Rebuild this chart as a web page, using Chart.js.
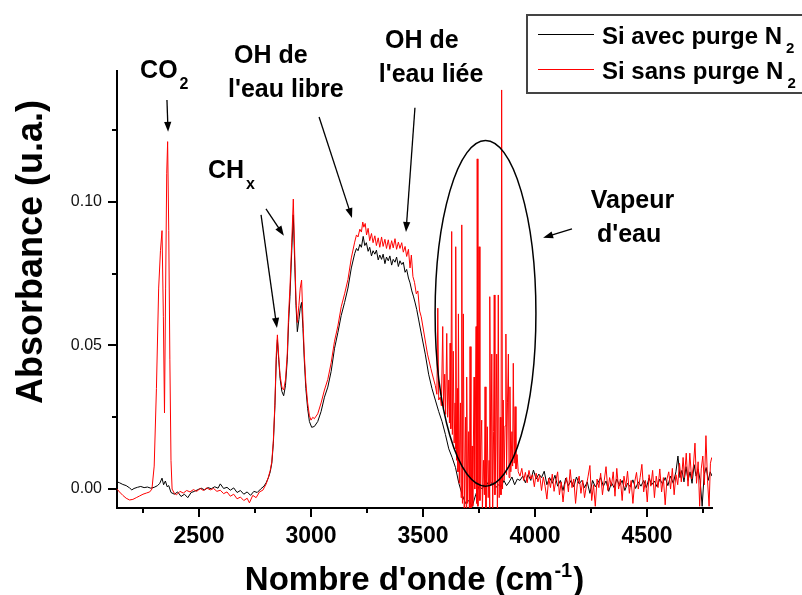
<!DOCTYPE html>
<html><head><meta charset="utf-8">
<script src="https://cdn.jsdelivr.net/npm/chart.js@4.4.1/dist/chart.umd.min.js"></script>
<style>html,body{margin:0;padding:0;background:#fff;}canvas{display:block;}</style>
</head><body>
<canvas id="c" width="802" height="595"></canvas>
<script>
// ---- data (wavenumber in cm-1, absorbance in u.a.) ----
const wnAvec = [
2134,2145,2160,2175,2190,2200,2210,2225,2240,2255,
2270,2285,2300,2315,2325,2335,2342,2350,2358,2365,
2375,2390,2405,2420,2435,2450,2465,2480,2495,2510,
2525,2540,2555,2570,2585,2595,2610,2625,2640,2655,
2670,2685,2700,2715,2730,2745,2760,2775,2790,2800,
2810,2818,2825,2832,2839,2845,2850,2856,2862,2870,
2878,2886,2894,2900,2906,2914,2921,2928,2933,2939,
2946,2952,2958,2964,2970,2977,2985,2993,3003,3015,
3030,3045,3060,3075,3090,3105,3120,3135,3150,3165,
3180,3195,3203,3210,3218,3225,3233,3240,3247,3255,
3262,3270,3277,3285,3292,3300,3307,3315,3322,3330,
3337,3345,3352,3360,3367,3375,3382,3390,3397,3405,
3412,3420,3427,3435,3442,3450,3457,3465,3472,3480,
3495,3510,3525,3540,3555,3570,3585,3600,3615,3630,
3645,3660,3675,3690,3705,3720,3735,3750,3765,3780,
3795,3810,
3825,3837,3849,3861,3873,3885,3897,3909,3921,3933,
3945,3957,3969,3981,3993,4005,4017,4029,4041,4053,
4065,4077,4089,4101,4113,4125,4137,4149,4161,4173,
4185,4197,4209,4221,4233,4245,4257,4269,4281,4293,
4305,4317,4329,4341,4353,4365,4377,4389,4401,4413,
4425,4437,4449,4461,4473,4485,4497,4509,4521,4533,
4545,4557,4569,4581,4593,4605,4617,4629,4638,4647,
4656,4665,4674,4683,4692,4701,4710,4719,4728,4737,
4746,4755,4764,4773,4782,4790];
const absAvec = [
0.0025,0.0022,0.0016,0.0012,0.0004,-0.0003,0.0002,0.0006,0.0009,0.0005,
0.0007,0.0003,0.0006,0.0012,0.0020,0.0038,0.0015,0.0028,0.0008,0.0012,
-0.0012,-0.0018,-0.0010,-0.0026,-0.0018,-0.0030,-0.0012,-0.0008,-0.0002,0.0003,
-0.0003,0.0005,0.0001,0.0008,0.0003,0.0018,0.0002,0.0006,-0.0004,0.0004,
-0.0012,-0.0005,-0.0018,-0.0010,-0.0022,-0.0008,-0.0012,0.0000,0.0010,0.0022,
0.0040,0.0060,0.0090,0.0160,0.0290,0.0450,0.0520,0.0450,0.0385,0.0340,
0.0325,0.0360,0.0450,0.0580,0.0670,0.0830,0.0955,0.0770,0.0640,0.0548,
0.0590,0.0630,0.0650,0.0560,0.0450,0.0350,0.0280,0.0235,0.0215,0.0218,
0.0235,0.0270,0.0320,0.0355,0.0410,0.0490,0.0545,0.0605,0.0650,0.0700,
0.0770,0.0820,0.0838,0.0830,0.0852,0.0842,0.0880,0.0848,0.0858,0.0828,
0.0842,0.0812,0.0830,0.0818,0.0832,0.0798,0.0815,0.0800,0.0818,0.0785,
0.0808,0.0795,0.0812,0.0780,0.0800,0.0790,0.0808,0.0775,0.0795,0.0782,
0.0790,0.0755,0.0765,0.0735,0.0718,0.0690,0.0672,0.0648,0.0625,0.0592,
0.0530,0.0470,0.0400,0.0350,0.0310,0.0270,0.0235,0.0190,0.0140,0.0110,
0.0075,0.0020,-0.0020,-0.0050,-0.0040,-0.0060,-0.0020,0.0010,0.0000,0.0030,
0.0010,0.0025,
0.0005,0.0015,0.0008,0.0030,0.0012,0.0025,0.0042,0.0015,0.0035,0.0030,
0.0045,0.0022,0.0050,0.0030,0.0066,0.0035,0.0052,0.0040,0.0062,0.0015,
0.0040,0.0020,0.0048,0.0010,0.0030,-0.0005,0.0038,0.0012,0.0030,0.0008,
0.0042,0.0018,0.0030,0.0005,0.0025,-0.0015,0.0030,0.0008,0.0022,0.0040,
0.0010,0.0028,-0.0008,0.0022,0.0005,0.0035,0.0012,0.0030,-0.0005,0.0020,
0.0008,0.0032,0.0002,0.0025,0.0010,0.0030,0.0005,0.0038,0.0015,0.0028,
0.0008,0.0035,0.0018,0.0040,0.0012,0.0045,0.0020,0.0060,0.0115,0.0040,
0.0065,0.0025,0.0078,0.0030,0.0060,0.0020,0.0085,0.0045,0.0070,0.0030,
-0.0060,0.0050,0.0075,0.0030,0.0060,0.0045];

const wnSans = [
2134,2145,2160,2175,2190,2205,2220,2235,2250,2265,
2280,2290,2300,2310,2320,2328,2335,2341,2346,2351,
2356,2360,2365,2370,2375,2380,2390,2400,2415,2430,
2445,2460,2475,2490,2505,2520,2535,2550,2565,2580,
2595,2610,2625,2640,2655,2670,2685,2700,2715,2725,
2740,2755,2770,2785,2800,2810,2818,2825,2832,2839,
2845,2850,2856,2862,2870,2878,2886,2894,2900,2906,
2914,2921,2928,2933,2939,2946,2952,2958,2964,2970,
2977,2985,2993,3000,3008,3015,3030,3045,3060,3075,
3090,3105,3120,3135,3150,3165,3180,3195,3203,3210,
3218,3225,3231,3236,3242,3248,3255,3262,3270,3277,
3285,3292,3300,3307,3315,3322,3330,3337,3345,3352,
3360,3367,3375,3382,3390,3397,3405,3412,3420,3427,
3435,3442,3448,3455,3462,3470,3477,3485,3492,3505,
3520,3535,3548,3555,3562,3566,3570,3577,3582,3588,
3592,3597,3601,3606,3610,3615,3618,3621,3624,3628,
3631,3635,3639,3643,3645,3647,3650,3654,3656,3658,
3662,3667,3670,3673,3676,3680,3684,3690,3693,3695,
3699,3704,3707,3710,3714,3719,3722,3728,3731,3737,
3740,3742,3745,3750,3754,3758,3762,3765,3770,3774,
3777,3781,3787,3791,3795,3797,3799,3803,3807,3811,
3815,3818,3821,3825,3829,3832,3836,3840,3845,3848,
3851,3855,3858,3862,3866,3870,3873,3877,3881,3884,
3888,3892,3897,3900,3903,3907,3911,3915,3920,
3925,3933,3941,3949,3957,3965,3973,3981,3989,3997,
4005,4013,4021,4029,4037,4045,4053,4061,4069,4077,
4085,4093,4101,4109,4117,4125,4133,4141,4149,4157,
4165,4173,4181,4189,4197,4205,4213,4221,4229,4237,
4245,4253,4261,4269,4277,4285,4293,4301,4309,4317,
4325,4333,4341,4349,4357,4365,4373,4381,4389,4397,
4405,4413,4421,4429,4437,4445,4453,4461,4469,4477,
4485,4493,4501,4509,4517,4525,4533,4541,4549,4557,
4565,4573,4581,4589,4597,4605,4613,4621,4629,4637,
4645,4653,4661,4667,4675,4683,4691,4699,4707,4714,
4721,4728,4735,4742,4749,4756,4763,4770,4777,4783,
4789];
const absSans = [
0.0000,-0.0010,-0.0022,-0.0032,-0.0038,-0.0036,-0.0030,-0.0024,-0.0018,-0.0014,
-0.0010,0.0000,0.0080,0.0350,0.0700,0.0830,0.0900,0.0600,0.0265,0.0700,
0.1100,0.1210,0.0900,0.0450,0.0100,0.0000,-0.0015,-0.0020,-0.0008,-0.0014,
-0.0005,-0.0010,-0.0002,-0.0008,0.0002,-0.0005,0.0004,-0.0003,0.0002,-0.0008,
-0.0004,-0.0016,-0.0010,-0.0025,-0.0018,-0.0034,-0.0028,-0.0040,-0.0032,-0.0048,
-0.0022,-0.0030,-0.0010,-0.0004,0.0018,0.0042,0.0065,0.0095,0.0170,0.0300,
0.0470,0.0537,0.0460,0.0395,0.0355,0.0345,0.0380,0.0470,0.0610,0.0700,
0.0860,0.1010,0.0800,0.0660,0.0580,0.0640,0.0700,0.0728,0.0590,0.0470,
0.0370,0.0300,0.0255,0.0240,0.0250,0.0245,0.0262,0.0300,0.0345,0.0382,
0.0440,0.0515,0.0568,0.0635,0.0680,0.0730,0.0805,0.0860,0.0885,0.0878,
0.0905,0.0895,0.0930,0.0912,0.0925,0.0885,0.0908,0.0865,0.0890,0.0858,
0.0882,0.0848,0.0875,0.0842,0.0878,0.0845,0.0870,0.0838,0.0868,0.0835,
0.0865,0.0840,0.0872,0.0835,0.0860,0.0838,0.0858,0.0825,0.0845,0.0810,
0.0835,0.0770,0.0815,0.0740,0.0720,0.0680,0.0690,0.0620,0.0600,0.0540,
0.0470,0.0420,0.0380,0.0360,0.0330,0.0630,0.0310,0.0320,0.0290,0.0566,
0.0280,0.0400,0.0260,0.0542,0.0250,0.0380,0.0230,0.0508,0.0210,0.0897,
0.0190,0.0480,0.0160,0.0300,0.0140,0.0844,0.0100,0.0350,0.0060,0.0610,
0.0020,0.0300,-0.0030,0.0920,-0.0050,0.0610,-0.0080,0.0250,-0.0080,0.0390,
-0.0050,0.0200,-0.0080,0.0496,-0.0070,0.0150,-0.0060,0.0390,0.0000,0.0566,
-0.0050,0.1150,-0.0060,0.0844,-0.0040,0.0150,0.0240,-0.0080,0.0100,-0.0020,
0.0356,-0.0080,0.0217,-0.0030,0.0100,-0.0080,0.0670,0.0020,0.0470,-0.0080,
0.0200,0.0676,-0.0020,0.0150,0.0470,-0.0070,0.0676,-0.0030,0.0250,-0.0020,
0.1390,0.0000,0.0310,0.0030,0.0220,0.0540,0.0050,0.0300,0.0470,0.0040,
0.0356,0.0060,0.0200,0.0080,0.0438,0.0090,0.0287,0.0070,0.0120,
0.0060,0.0045,0.0072,0.0030,0.0058,0.0022,0.0065,0.0035,0.0050,0.0008,
0.0055,0.0025,0.0048,-0.0005,0.0042,0.0010,-0.0035,0.0038,0.0005,0.0052,
-0.0008,0.0030,0.0060,-0.0020,0.0025,-0.0045,0.0015,0.0040,-0.0010,0.0068,
0.0005,0.0035,-0.0050,0.0020,0.0045,-0.0015,0.0030,-0.0030,0.0010,0.0045,
0.0082,-0.0040,0.0015,-0.0060,0.0035,0.0005,0.0055,-0.0020,0.0030,0.0078,
-0.0005,0.0040,0.0010,0.0060,-0.0025,0.0072,0.0000,0.0035,-0.0040,0.0045,
0.0008,0.0062,-0.0015,0.0030,-0.0050,0.0025,0.0058,0.0000,0.0040,0.0086,
-0.0010,0.0030,-0.0045,0.0050,0.0010,0.0065,-0.0030,0.0045,0.0005,0.0070,
-0.0010,0.0040,-0.0055,0.0035,0.0060,0.0000,0.0072,-0.0020,0.0050,0.0015,
0.0090,0.0025,0.0110,0.0040,0.0125,0.0010,0.0125,0.0035,0.0080,0.0160,
0.0020,0.0095,-0.0060,0.0070,0.0115,0.0015,0.0186,0.0030,-0.0060,0.0090,
0.0110];

const seriesNames = ['Si avec purge N', 'Si sans purge N'];
const seriesSub = '2';
const xTicks = [2500, 3000, 3500, 4000, 4500];
const xMinorTicks = [2250, 2750, 3250, 3750, 4250, 4750];
const yTicks = [0.00, 0.05, 0.10];
const yMinorTicks = [0.025, 0.075, 0.125];
const xRange = [2134, 4790];
const yRange = [-0.0066, 0.1456];
const yTitle = 'Absorbance (u.a.)';
const xTitle = ["Nombre d'onde (cm", '-1', ')'];

// annotation anchors in data units
const labels = [
  {t:'CO', sub:'2', x:2237, y:0.1432, align:'left'},
  {t:'CH', sub:'x', x:2540, y:0.1084, align:'left'},
  {t:'OH de', x:2821, y:0.1484, align:'center'},
  {t:"l'eau libre", x:2888, y:0.1367, align:'center'},
  {t:'OH de', x:3495, y:0.1537, align:'center'},
  {t:"l'eau liée", x:3536, y:0.1419, align:'center'},
  {t:'Vapeur', x:4435, y:0.0978, align:'center'},
  {t:"d'eau", x:4420, y:0.0862, align:'center'}
];
const arrows = [
  [2357, 0.1355, 2362, 0.1244],
  [3036, 0.1296, 3183, 0.0944],
  [2777, 0.0955, 2848, 0.0561],
  [2799, 0.0976, 2879, 0.0882],
  [3464, 0.1328, 3424, 0.0895],
  [4165, 0.0906, 4036, 0.0875]
];
const ellipse = {x:3779, y:0.0612, rx:225, ry:0.0602};

const FONT = '"Liberation Sans", Arial, Helvetica, sans-serif';

function drawArrow(ctx, x1, y1, x2, y2) {
  const a = Math.atan2(y2 - y1, x2 - x1), L = 10, W = 3.6;
  ctx.beginPath();
  ctx.moveTo(x1, y1);
  ctx.lineTo(x2 - (L - 2) * Math.cos(a), y2 - (L - 2) * Math.sin(a));
  ctx.stroke();
  ctx.beginPath();
  ctx.moveTo(x2, y2);
  ctx.lineTo(x2 - L * Math.cos(a) + W * Math.sin(a), y2 - L * Math.sin(a) - W * Math.cos(a));
  ctx.lineTo(x2 - L * Math.cos(a) - W * Math.sin(a), y2 - L * Math.sin(a) + W * Math.cos(a));
  ctx.closePath();
  ctx.fill();
}

const overlay = {
  id: 'overlay',
  afterDraw(chart) {
    const ctx = chart.ctx, xs = chart.scales.x, ys = chart.scales.y, ca = chart.chartArea;
    const X = v => xs.getPixelForValue(v), Y = v => ys.getPixelForValue(v);
    ctx.save();
    ctx.strokeStyle = '#000'; ctx.fillStyle = '#000';
    ctx.lineWidth = 2;
    const seg = (a, b, c, d) => { ctx.beginPath(); ctx.moveTo(a, b); ctx.lineTo(c, d); ctx.stroke(); };
    xTicks.forEach(v => { const p = Math.round(X(v)); seg(p, ca.bottom, p, ca.bottom + 9); });
    xMinorTicks.forEach(v => { const p = Math.round(X(v)); seg(p, ca.bottom, p, ca.bottom + 5); });
    yTicks.forEach(v => { const p = Math.round(Y(v)); seg(ca.left - 9, p, ca.left, p); });
    yMinorTicks.forEach(v => { const p = Math.round(Y(v)); seg(ca.left - 5, p, ca.left, p); });

    // axis titles
    ctx.font = 'bold 36px ' + FONT;
    ctx.textBaseline = 'alphabetic';
    ctx.save();
    ctx.translate(42, 252);
    ctx.rotate(-Math.PI / 2);
    ctx.textAlign = 'center';
    ctx.fillText(yTitle, 0, 0);
    ctx.restore();

    ctx.textAlign = 'left';
    const f1 = 'bold 33px ' + FONT, f2 = 'bold 20px ' + FONT;
    ctx.font = f1; const w1 = ctx.measureText(xTitle[0]).width, w3 = ctx.measureText(xTitle[2]).width;
    ctx.font = f2; const w2 = ctx.measureText(xTitle[1]).width;
    const sx = (ca.left + ca.right) / 2 - (w1 + w2 + w3 + 2) / 2;
    ctx.font = f1; ctx.fillText(xTitle[0], sx, 590);
    ctx.font = f2; ctx.fillText(xTitle[1], sx + w1 + 1, 577);
    ctx.font = f1; ctx.fillText(xTitle[2], sx + w1 + w2 + 2, 590);

    // annotation texts
    labels.forEach(l => {
      ctx.font = 'bold 25px ' + FONT;
      ctx.textAlign = l.align;
      const px = X(l.x), py = Y(l.y);
      ctx.fillText(l.t, px, py);
      if (l.sub) {
        const w = ctx.measureText(l.t).width;
        ctx.font = 'bold 16px ' + FONT;
        ctx.textAlign = 'left';
        ctx.fillText(l.sub, px + w + 2, py + 11);
      }
    });

    // arrows
    ctx.lineWidth = 1.3;
    arrows.forEach(a => drawArrow(ctx, X(a[0]), Y(a[1]), X(a[2]), Y(a[3])));

    // ellipse
    ctx.lineWidth = 1.5;
    const cx = X(ellipse.x), cy = Y(ellipse.y);
    const rx = X(ellipse.x + ellipse.rx) - cx, ry = cy - Y(ellipse.y + ellipse.ry);
    ctx.beginPath(); ctx.ellipse(cx, cy, rx, ry, 0, 0, Math.PI * 2); ctx.stroke();

    // legend
    ctx.lineWidth = 2; ctx.strokeStyle = '#444';
    ctx.strokeRect(527, 15, 290, 78);
    const rows = [{c: '#000000', y: 34.5, name: seriesNames[0]}, {c: '#ff0000', y: 69.5, name: seriesNames[1]}];
    rows.forEach(r => {
      ctx.lineWidth = 1.2; ctx.strokeStyle = r.c;
      seg(538, r.y, 594, r.y);
      ctx.fillStyle = '#000';
      ctx.font = 'bold 24px ' + FONT; ctx.textAlign = 'left';
      ctx.fillText(r.name, 602, r.y + 9.5);
      const w = ctx.measureText(r.name).width;
      ctx.font = 'bold 15px ' + FONT;
      ctx.fillText(seriesSub, 602 + w + 4, r.y + 18.5);
    });
    ctx.restore();
  }
};

new Chart(document.getElementById('c'), {
  type: 'line',
  data: {
    datasets: [
      {label: seriesNames[1], data: wnSans.map((x, i) => ({x, y: absSans[i]})), borderColor: '#ff0000', borderWidth: 1, pointRadius: 0, tension: 0, order: 0, fill: false},
      {label: seriesNames[0], data: wnAvec.map((x, i) => ({x, y: absAvec[i]})), borderColor: '#000000', borderWidth: 1, pointRadius: 0, tension: 0, order: 1, fill: false}
    ]
  },
  options: {
    responsive: false, animation: false, devicePixelRatio: 1,
    layout: {padding: {left: 0, right: 90, top: 71, bottom: 0}},
    plugins: {legend: {display: false}, tooltip: {enabled: false}},
    scales: {
      x: {
        type: 'linear', position: 'bottom', min: xRange[0], max: xRange[1],
        afterFit(s) { s.height = 87; },
        afterBuildTicks(s) { s.ticks = xTicks.map(v => ({value: v})); },
        grid: {display: false, drawTicks: false},
        border: {display: true, width: 2, color: '#000'},
        ticks: {padding: 15, color: '#000', maxRotation: 0, autoSkip: false,
          font: {family: FONT, size: 23, weight: 'bold'}, callback: v => String(v)}
      },
      y: {
        type: 'linear', position: 'left', min: yRange[0], max: yRange[1],
        afterFit(s) { s.width = 117; },
        afterBuildTicks(s) { s.ticks = yTicks.map(v => ({value: v})); },
        grid: {display: false, drawTicks: false},
        border: {display: true, width: 2, color: '#000'},
        ticks: {padding: 15, color: '#111', font: {family: FONT, size: 16}, callback: v => Number(v).toFixed(2)}
      }
    }
  },
  plugins: [overlay]
});
</script>
</body></html>
